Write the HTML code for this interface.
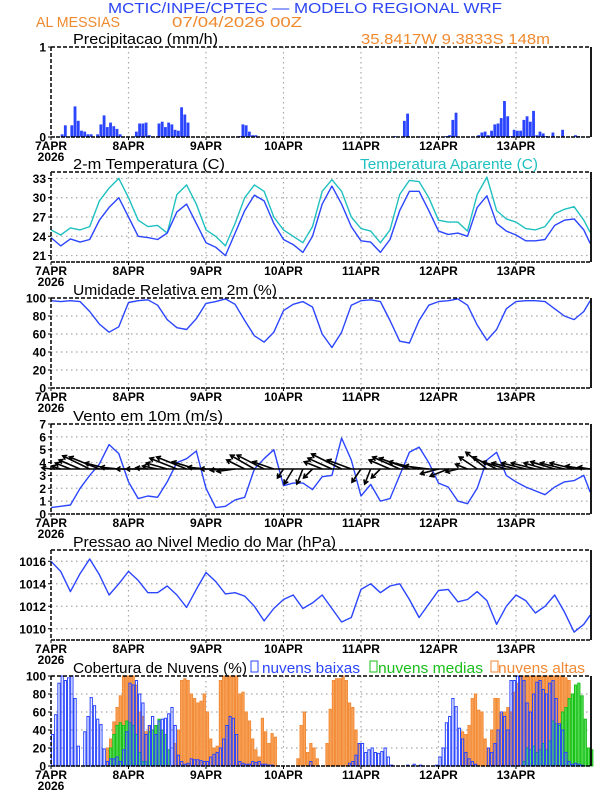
<!DOCTYPE html>
<html><head><meta charset="utf-8">
<style>
html,body{margin:0;padding:0;background:#fff;}
svg{display:block;font-family:"Liberation Sans",sans-serif;}
</style></head>
<body>
<svg id="chart" width="612" height="792" viewBox="0 0 612 792"></svg>
<script>
// ---- data (3-hourly lines) ----
const hours3=[0,3,6,9,12,15,18,21,24,27,30,33,36,39,42,45,48,51,54,57,60,63,66,69,72,75,78,81,84,87,90,93,96,99,102,105,108,111,114,117,120,123,126,129,132,135,138,141,144,147,150,153,156,159,162,165,167];
const temp2m=[23.8,22.5,23.6,23.1,23.5,26.5,28.5,30,27,24,23.8,23.5,24.5,27.8,29,26,23,22.3,21,24.5,28,30.4,29.5,26,23.5,22.7,21.5,24,29,31.8,29,25.5,23.3,23.1,21.5,23.5,28,31,31,28,24.8,24.3,24.5,24,28.5,30.3,26,24.8,24.2,23.3,23.3,23.5,25.7,26.5,26.7,25,22.9];
const tempAparente=[25,24.2,25.3,25,25.5,29.5,31.5,33,30,26.5,25.5,25.7,24.5,30.5,32,29,25,24,22.5,26,30,32,31,27,25,24,23,25.5,31,32.8,31,27,25.2,24.8,23,25,30.5,32.7,32.5,30,26.5,26.2,26.2,24.8,30.5,33.2,28,26.7,26.2,25.2,25,25.5,27.5,28.2,28.6,26.5,24.6];
const umidade=[97,96,97,96,85,71,62,68,95,97,98,92,76,67,65,77,94,96,99,93,75,58,51,62,86,93,96,90,60,45,62,92,97,98,96,75,52,50,75,92,96,97,99,92,70,53,65,88,96,97,97,96,88,80,76,85,97];
const ventoVel=[0.5,0.6,0.7,2,3,3.9,5.4,4.7,2.5,1.2,1.4,1.3,2.5,4,4.3,4.9,2,0.5,0.6,1.1,1.3,3.5,4.3,5,2.2,2.4,2.4,1.9,2.9,3,5.9,4.2,1.4,2.3,1,1.2,3,4.8,5.2,4,2.4,2.1,1,0.8,2,4.2,4.8,3,2.5,2.1,1.8,1.5,2.1,2.5,2.6,3,1.7];
const ventoU=[-1.5,-1.5,-2.5,-3.5,-4.5,-5,-4,-3,-2,-2,-2,-2.5,-3.5,-4.5,-5,-4,-3,-2.5,-2.5,-3,-3,-4,-4.5,-3.5,-1,-1.5,-1,-1.5,-3,-4,-5,-4,-1.5,-1,-1.5,-3.5,-4.5,-5,-5,-4,-3,-3,-2,-2,-3,-3.5,-4,-4,-4,-4,-4,-3.5,-4,-4,-4,-3,-2];
const ventoV=[0.2,0.5,1,1.5,2.2,2,1,0.3,0,0,0.2,0.5,1,1.8,2,1.2,0.3,0,-0.2,-0.4,1.5,2.3,2.3,1.2,-1.5,-2.5,-2.5,-1.5,1.2,1.8,2.5,1.5,-2.2,-2.5,-1.5,1.5,2,1.8,1.2,0.5,-0.8,-1.2,-0.5,0.8,2,2.8,2,1.2,1,1,1,1,1.2,1,1,0.5,0.3];
const pressao=[1016,1015.1,1013.3,1014.9,1016.2,1014.8,1013,1014,1015.1,1014.3,1013.2,1013.2,1013.8,1013,1011.9,1013.5,1015,1014.2,1013.1,1013.2,1012.9,1012,1010.7,1011.8,1012.6,1013,1011.8,1012.3,1013,1011.8,1010.6,1011,1013.5,1014,1013.2,1013.8,1014,1012.6,1011,1012.2,1013.4,1013.5,1012.4,1012.6,1013.3,1012.5,1010.4,1012,1013,1012.5,1011.4,1012,1013,1011.5,1009.7,1010.4,1011.2];
// ---- precipitation (hourly, non-zero hours) ----
const precHours=[3,4,6,7,8,9,10,11,12,14,15,16,17,18,19,20,21,26,27,28,29,30,33,34,35,36,37,38,39,40,41,42,51,53,58,59,60,61,62,63,106,109,110,114,122,123,124,125,132,133,134,135,136,137,138,139,140,141,142,143,144,145,146,147,148,149,150,151,152,153,155,158,162,163];
const precVals=[0.03,0.13,0.13,0.34,0.18,0.07,0.06,0.03,0.03,0.03,0.14,0.24,0.11,0.16,0.12,0.09,0.03,0.06,0.15,0.15,0.16,0.02,0.15,0.17,0.11,0.16,0.14,0.08,0.07,0.33,0.25,0.16,0.005,0.005,0.01,0.14,0.13,0.06,0.02,0.02,0.01,0.18,0.26,0.005,0.01,0.02,0.19,0.27,0.02,0.05,0.06,0.02,0.07,0.14,0.15,0.21,0.4,0.23,0.01,0.08,0.07,0.07,0.19,0.23,0.17,0.29,0.02,0.06,0.04,0.01,0.05,0.08,0.02,0.01];
// ---- clouds (hourly, non-zero hours) ----
const lowHours=[0,1,2,3,4,5,6,7,8,10,11,12,13,14,15,16,17,18,19,20,21,22,23,24,25,26,27,28,29,30,31,32,33,34,35,36,37,38,39,40,41,42,43,44,45,46,47,48,49,50,51,52,53,54,55,56,57,58,59,60,61,62,63,64,65,66,67,68,80,92,93,94,95,96,97,98,99,100,101,102,103,104,105,110,112,114,119,120,121,122,123,124,125,126,127,128,129,130,131,135,136,137,138,139,140,141,142,143,144,145,146,147,148,149,150,151,152,153,154,155,156,157,158,159,160,161,162,163,164];
const lowVals=[35,57,92,100,95,98,100,75,22,38,55,76,67,52,46,19,5,8,8,10,5,18,38,92,90,95,80,70,35,45,55,35,50,52,53,58,65,45,12,5,2,3,8,7,7,6,5,5,10,13,15,20,30,45,55,53,35,5,3,2,2,5,4,5,2,2,1,1,5,3,5,12,25,25,15,18,20,15,14,16,20,10,1,1,2,1,1,10,20,48,55,75,66,42,30,15,8,5,2,20,15,25,40,60,55,40,95,95,100,100,95,70,60,80,93,95,85,80,92,95,75,47,40,15,5,2,3,2,1];
const midHours=[18,19,20,21,22,23,24,25,26,27,28,29,30,31,32,33,34,35,36,146,147,148,149,150,151,152,153,154,155,156,157,158,159,160,161,162,163,164,165,166,167];
const midVals=[20,35,45,48,45,50,48,45,35,15,5,5,38,40,45,52,40,35,18,5,20,18,22,15,18,25,18,28,50,47,45,60,65,75,80,90,92,78,52,20,18];
const highHours=[17,18,19,20,21,22,23,24,25,26,27,28,29,30,31,32,33,34,35,38,39,40,41,42,43,44,45,46,47,48,49,50,51,52,53,54,55,56,57,58,59,60,61,62,63,64,65,66,67,68,69,76,77,78,79,80,81,82,85,86,87,88,89,90,91,92,93,94,95,127,128,129,130,131,132,133,134,135,136,137,138,139,140,141,142,143,144,145,146,147,148,149,150,151,152,153,154,155,156,157,158,159,160,161,162];
const highVals=[20,30,49,65,78,100,100,100,100,90,60,55,38,45,30,15,5,5,5,25,40,95,97,95,80,75,70,72,80,60,30,20,22,95,100,100,100,100,100,80,82,60,50,30,18,10,53,38,25,36,32,8,45,60,15,25,20,8,25,63,95,97,97,100,95,70,65,40,25,38,35,45,75,80,62,60,30,20,40,75,75,58,60,65,60,82,92,100,100,100,100,100,100,100,100,100,100,100,100,100,100,98,95,70,20];
// ---- axis labels ----
const dayLabels=["7APR","8APR","9APR","10APR","11APR","12APR","13APR"];
const precTicks=[0,1];
const tempTicks=[21,24,27,30,33];
const rhTicks=[0,20,40,60,80,100];
const windTicks=[0,1,2,3,4,5,6,7];
const presTicks=[1010,1012,1014,1016];
const cloudTicks=[0,20,40,60,80,100];

const NS="http://www.w3.org/2000/svg";
const svg=document.getElementById('chart');
const L=51,R=591,PXH=3.229;
function xOf(h){return L+h*PXH;}
function mk(tag,attrs,parent){const e=document.createElementNS(NS,tag);for(const k in attrs)e.setAttribute(k,attrs[k]);(parent||svg).appendChild(e);return e;}
function txt(s,x,y,size,fill,anchor,tl,parent){const t=mk('text',{x:x,y:y,'font-size':size,fill:fill,'text-anchor':anchor||'start'},parent);if(tl){t.setAttribute('textLength',tl);t.setAttribute('lengthAdjust','spacingAndGlyphs');}t.textContent=s;return t;}

let t;
t=txt("MCTIC/INPE/CPTEC \u2014 MODELO REGIONAL WRF",108,13,15,"#2b45f5","start",394);


t=txt("AL MESSIAS",36,27,15,"#f08a2e","start",84);


t=txt("07/04/2026 00Z",172,27,15,"#f08a2e","start",130);


t=txt("35.8417W 9.3833S 148m",361,44,15,"#f08a2e","start",189);



function panel(name,top,bot,min,max,ticks,title,titleLen){
  const g=mk('g',{});
  
  
  const y=v=>bot-(v-min)/(max-min)*(bot-top);
  for(let d=1;d<7;d++){const l=mk('line',{x1:xOf(d*24),x2:xOf(d*24),y1:top,y2:bot,stroke:'#a8a8a8','stroke-width':1.2,'stroke-dasharray':'1.5,3.5'},g);
    
    }
  ticks.forEach(v=>{if(v>min&&v<max){const l=mk('line',{x1:L,x2:R,y1:y(v),y2:y(v),stroke:'#a8a8a8','stroke-width':1.2,'stroke-dasharray':'1.5,3.5'},g);
    
    }
    const tl=txt(String(v),46,y(v)+4.5,12,'#000','end',null,g);
    tl.setAttribute('font-weight','bold');
    
    
    mk('line',{x1:L-3,x2:L,y1:y(v),y2:y(v),stroke:'#000'},g);});
  dayLabels.forEach((s,i)=>{const tl=txt(s,xOf(i*24),bot+13,12,'#000','middle',null,g);
    tl.setAttribute('font-weight','bold');
    
    
    mk('line',{x1:xOf(i*24),x2:xOf(i*24),y1:bot,y2:bot+3,stroke:'#000'},g);});
  const yr=txt("2026",L,bot+24,12,'#000','middle',null,g);
  yr.setAttribute('font-weight','bold');
  
  
  const tt=txt(title,73,top-3,14.5,'#000','start',titleLen,g);
  
  
  const plot=mk('g',{},g);
  const frame=mk('g',{},g);
  mk('line',{x1:L,x2:R,y1:top,y2:top,stroke:'#000','stroke-width':1.5,'stroke-dasharray':'4,2'},frame);
  mk('line',{x1:L,x2:L,y1:top,y2:bot,stroke:'#000','stroke-width':1.5,'stroke-dasharray':'4,2'},frame);
  mk('line',{x1:R,x2:R,y1:top,y2:bot,stroke:'#000','stroke-width':1.8},frame);
  mk('line',{x1:L,x2:R,y1:bot,y2:bot,stroke:'#000','stroke-width':1.5,'stroke-dasharray':'4,1'},frame);
  return {y:y,plot:plot};
}
function line(p,vals,color,name){
  const d=hours3.map((h,i)=>(i?'L':'M')+xOf(h).toFixed(1)+','+p.y(vals[i]).toFixed(1)).join('');
  const e=mk('path',{d:d,fill:'none',stroke:color,'stroke-width':1.4,'stroke-linejoin':'round'},p.plot);
  
  
}

const p1=panel('precipitation',47,137,0,1,precTicks,"Precipitacao (mm/h)",145);
precHours.forEach((h,i)=>{const y=p1.y(precVals[i]);
  const b=mk('rect',{x:xOf(h),y:y,width:PXH-0.4,height:Math.max(0.6,137-y),fill:'#2b45ff'},p1.plot);
  
  });

const p2=panel('temperature',172,262,20,34,tempTicks,"2-m Temperatura (C)",152);
t=txt("Temperatura Aparente (C)",360,169,14.5,'#20c0c0','start',178);


line(p2,tempAparente,'#20c0c0','apparent-temp-line');
line(p2,temp2m,'#2b45ff','temp-2m-line');

const p3=panel('humidity',298,388,0,100,rhTicks,"Umidade Relativa em 2m (%)",204);
line(p3,umidade,'#2b45ff','humidity-line');

const p4=panel('wind',424,514,0,7,windTicks,"Vento em 10m (m/s)",150);
line(p4,ventoVel,'#2b45ff','wind-speed-line');
const base=p4.y(3.5);
mk('line',{x1:L,x2:R,y1:base,y2:base,stroke:'#000','stroke-width':1.5},p4.plot);
hours3.forEach((h,i)=>{const x0=xOf(h),dx=ventoU[i]*6,dy=-ventoV[i]*6;
  const x1=x0+dx,y1=base+dy,len=Math.hypot(dx,dy)||1,ux=dx/len,uy=dy/len;
  const hs=4;
  const d='M'+x0+','+base+'L'+x1+','+y1+'M'+(x1-ux*hs-uy*hs*0.6)+','+(y1-uy*hs+ux*hs*0.6)+'L'+x1+','+y1+'L'+(x1-ux*hs+uy*hs*0.6)+','+(y1-uy*hs-ux*hs*0.6);
  const a=mk('path',{d:d,fill:'none',stroke:'#000','stroke-width':1.6},p4.plot);
  
  });

const p5=panel('pressure',550,640,1009,1017,presTicks,"Pressao ao Nivel Medio do Mar (hPa)",263);
line(p5,pressao,'#2b45ff','pressure-line');

const p6=panel('clouds',676,766,0,100,cloudTicks,"Cobertura de Nuvens (%)",174);
function bars(hrs,vals,fill,stroke,name){
  hrs.forEach((h,i)=>{const y=p6.y(vals[i]);
    const b=mk('rect',{x:xOf(h)+0.4,y:y,width:PXH-1,height:766-y,fill:fill,stroke:stroke,'stroke-width':1},p6.plot);
    
    });
}
bars(highHours,highVals,'#f7a55e','#f38a35','high-cloud-bar');
bars(midHours,midVals,'#5fe05f','#19c019','mid-cloud-bar');
bars(lowHours,lowVals,'none','#2b45ff','low-cloud-bar');
function legend(x,color,fill,label,tx,tl,name){
  const g=mk('g',{});
  
  
  mk('rect',{x:x,y:661,width:7,height:11,fill:fill,stroke:color,'stroke-width':1},g);
  txt(label,tx,673,14.5,color,'start',tl,g);
}
legend(251,'#2b45ff','none','nuvens baixas',262,98,'legend-low-clouds');
legend(370,'#19c019','none','nuvens medias',378,105,'legend-mid-clouds');
legend(491,'#f38a35','none','nuvens altas',498,87,'legend-high-clouds');
</script>
</body></html>
